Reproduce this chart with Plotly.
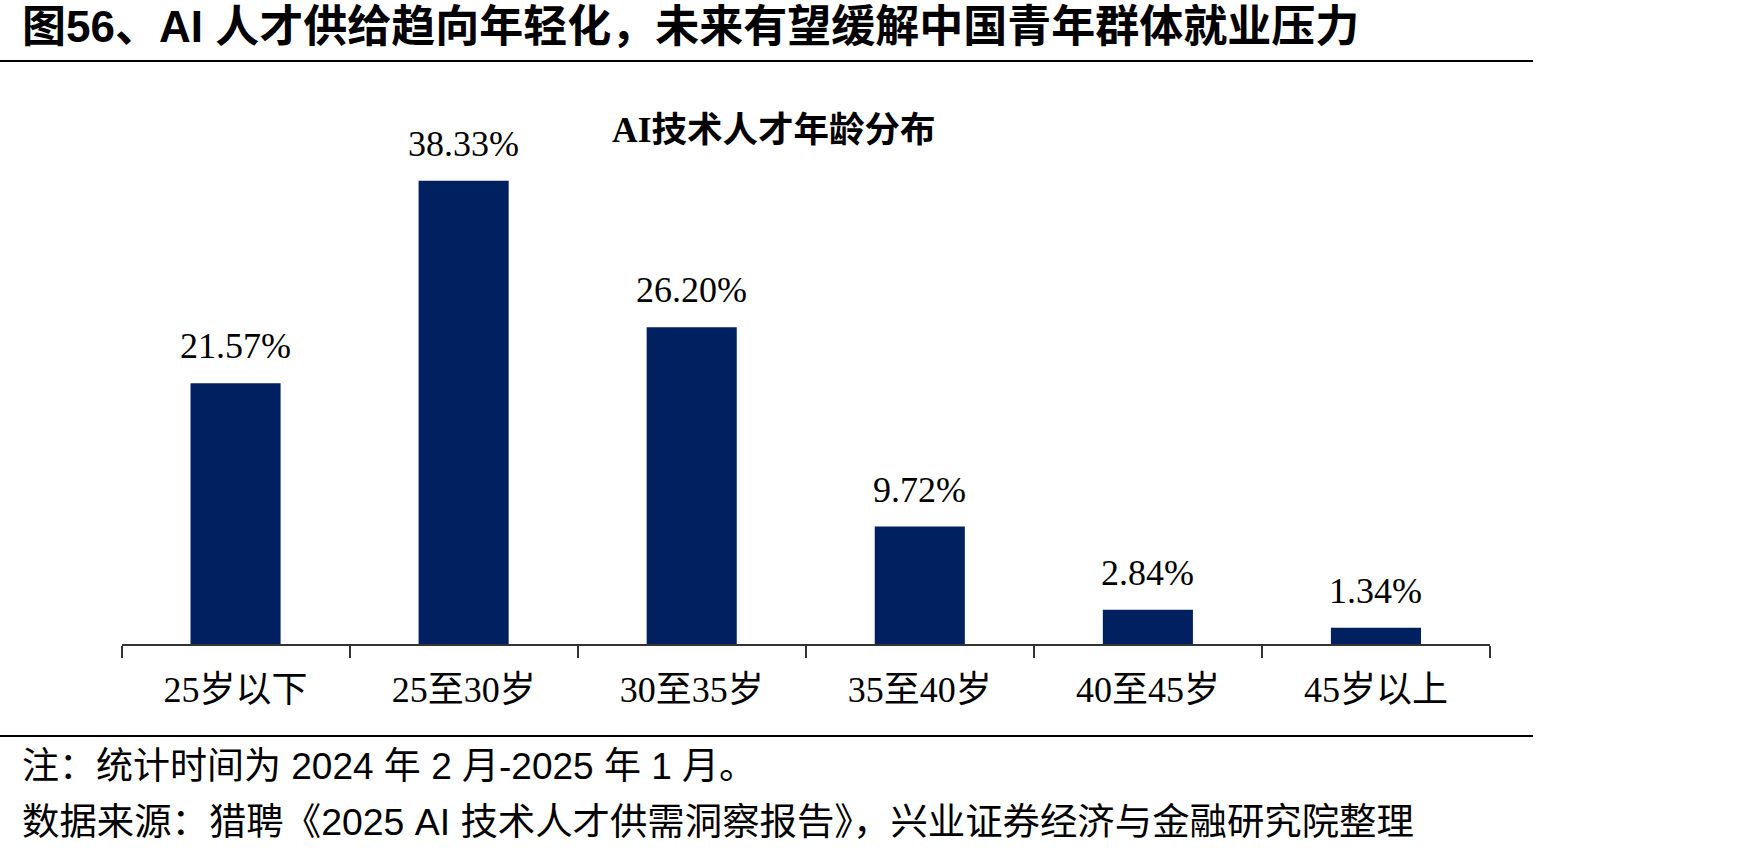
import plotly.graph_objects as go

categories = ["25岁以下", "25至30岁", "30至35岁", "35至40岁", "40至45岁", "45岁以上"]
values = [21.57, 38.33, 26.20, 9.72, 2.84, 1.34]
value_labels = [f"{v:.2f}%" for v in values]

main_title = "图56、AI 人才供给趋向年轻化，未来有望缓解中国青年群体就业压力"
chart_title = "AI技术人才年龄分布"
note_text = "注：统计时间为 2024 年 2 月-2025 年 1 月。"
source_text = "数据来源：猎聘《2025 AI 技术人才供需洞察报告》，兴业证券经济与金融研究院整理"

W, H = 1748, 854
SERIF = "Liberation Serif, Times New Roman, Noto Sans CJK SC"
SANS = "Liberation Sans, Arial, Noto Sans CJK SC"
BAR_COLOR = "#002060"

fig = go.Figure(
    go.Bar(
        x=categories,
        y=values,
        marker=dict(color=BAR_COLOR, line=dict(width=0)),
        width=0.395,
        hoverinfo="skip",
    )
)

annotations = []
for c, v, lab in zip(categories, values, value_labels):
    annotations.append(
        dict(
            x=c, y=v, xref="x", yref="y", text=lab, showarrow=False,
            yanchor="bottom", yshift=15,
            font=dict(family=SERIF, size=36, color="#000000"),
        )
    )

annotations.append(dict(
    x=773 / W, y=1 - 130 / H, xref="paper", yref="paper", text="<b>" + chart_title + "</b>",
    showarrow=False, xanchor="center", yanchor="middle",
    font=dict(family=SERIF, size=35.5, color="#000000"),
))
annotations.append(dict(
    x=20 / W, y=1 - 26 / H, xref="paper", yref="paper", text="<b>" + main_title + "</b>",
    showarrow=False, xanchor="left", yanchor="middle",
    font=dict(family=SANS, size=44, color="#000000"),
))
annotations.append(dict(
    x=20 / W, y=1 - 766 / H, xref="paper", yref="paper", text=note_text,
    showarrow=False, xanchor="left", yanchor="middle",
    font=dict(family=SANS, size=37, color="#000000"),
))
annotations.append(dict(
    x=20 / W, y=1 - 822 / H, xref="paper", yref="paper", text=source_text,
    showarrow=False, xanchor="left", yanchor="middle",
    font=dict(family=SANS, size=37.4, color="#000000"),
))

shapes = [
    dict(type="line", xref="paper", yref="paper", x0=0, x1=1533 / W,
         y0=1 - 61 / H, y1=1 - 61 / H, line=dict(color="#000000", width=2)),
    dict(type="line", xref="paper", yref="paper", x0=0, x1=1533 / W,
         y0=1 - 736 / H, y1=1 - 736 / H, line=dict(color="#000000", width=2)),
]

fig.update_layout(
    width=W, height=H,
    margin=dict(l=0, r=0, t=0, b=0),
    paper_bgcolor="white", plot_bgcolor="white",
    showlegend=False,
    annotations=annotations,
    shapes=shapes,
    xaxis=dict(
        domain=[121.5 / W, 1490 / W],
        type="category",
        range=[-0.5, 5.5],
        showline=True, linecolor="#333333", linewidth=2,
        ticks="outside", tickson="boundaries", ticklen=12,
        tickcolor="#333333", tickwidth=1.5,
        tickfont=dict(family=SERIF, size=36, color="#000000"),
        showgrid=False, zeroline=False,
        ticklabelstandoff=13,
    ),
    yaxis=dict(
        domain=[210 / H, 754 / H],
        range=[0, 45],
        visible=False,
        showgrid=False, zeroline=False,
    ),
)

fig.write_html("out.html")
